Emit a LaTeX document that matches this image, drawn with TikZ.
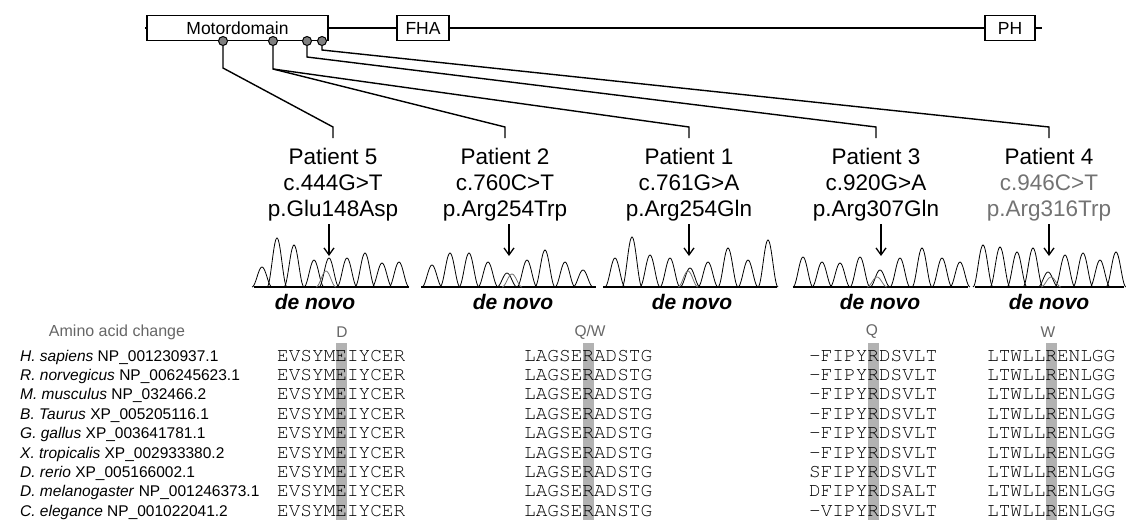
\documentclass[tikz,border=0pt]{standalone}
\usepackage{fontspec}
\setmainfont{Liberation Sans}
\usetikzlibrary{arrows.meta}
\newcommand{\seqfont}{\fontencoding{T1}\fontfamily{pcr}\selectfont}

% one peak of a trace: [colour] {x} {height}
\newcommand{\pk}[3][black]{%
  \draw[#1,line width=0.8pt] plot[domain=-10:10,samples=21,smooth] ({#2+\x},{287-#3*(1+cos(18*\x))/2});}

\begin{document}
\begin{tikzpicture}[x=1pt,y=-1pt,
    domainbox/.style={draw,line width=1.4pt,fill=white,minimum height=25pt,inner sep=0pt,font=\fontsize{17.5}{20}\selectfont},
    site/.style={circle,draw,line width=1pt,fill=gray,minimum size=9pt,inner sep=0pt},
    patient/.style={anchor=north,align=center,inner sep=0pt,font=\fontsize{22.5}{26}\selectfont},
    link/.style={line width=1.4pt},
    mut/.style={line width=1.3pt,-{Straight Barb[length=7pt,width=10pt]}},
    trace base/.style={line width=1.5pt},
    novo/.style={font=\fontsize{21}{24}\selectfont\bfseries\itshape},
    change/.style={text=black!60,font=\fontsize{15.5}{18}\selectfont},
    species/.style={anchor=base west,inner sep=0pt,font=\fontsize{15.5}{18}\selectfont},
    seq/.style={anchor=base west,inner sep=0pt,font=\fontsize{19.4}{20}\seqfont}]
\useasboundingbox (0,0) rectangle (1126,520);

% protein
\draw[link] (145,28) -- (1042,28);
\node[domainbox,minimum width=181pt] (motor) at (237.5,28) {Motordomain};
\node[domainbox,minimum width=52pt] (fha) at (423,28) {FHA};
\node[domainbox,minimum width=50pt] (ph) at (1010,28) {PH};
\node[site] (d1) at (223,41) {};
\node[site] (d2) at (273,41) {};
\node[site] (d3) at (307,41) {};
\node[site] (d4) at (322,41) {};

% patients
\node[patient] (p5) at (333,148) {Patient 5\\c.444G>T\\p.Glu148Asp};
\node[patient] (p2) at (505,148) {Patient 2\\c.760C>T\\p.Arg254Trp};
\node[patient] (p1) at (689,148) {Patient 1\\c.761G>A\\p.Arg254Gln};
\node[patient] (p3) at (876,148) {Patient 3\\c.920G>A\\p.Arg307Gln};
\node[patient] (p4) at (1049,148) {Patient 4\\\textcolor{black!55}{c.946C>T}\\\textcolor{black!55}{p.Arg316Trp}};

% connectors
\coordinate (c1) at (223,68);
\coordinate (c2) at (273,69);
\coordinate (c3) at (307,57);
\coordinate (c4) at (322,50);
\coordinate (k5) at (333,127);
\coordinate (k2) at (505,127);
\coordinate (k1) at (689,127);
\coordinate (k3) at (876,127);
\coordinate (k4) at (1049,127);
\draw[link] (d1) -- (c1) -- (k5) -- ([yshift=10pt]p5.north);
\draw[link] (d2) -- (c2) -- (k2) -- ([yshift=10pt]p2.north);
\draw[link] (c2) -- (k1) -- ([yshift=10pt]p1.north);
\draw[link] (d3) -- (c3) -- (k3) -- ([yshift=10pt]p3.north);
\draw[link] (d4) -- (c4) -- (k4) -- ([yshift=10pt]p4.north);

% mutation arrows
\foreach \ax in {329,509,689,881,1049}
  \draw[mut] (\ax,224) -- (\ax,256);

% traces
\draw[trace base] (254,287) -- (409,287);
\draw[trace base] (421,287) -- (596,287);
\draw[trace base] (603,287) -- (777,287);
\draw[trace base] (793,287) -- (968,287);
\draw[trace base] (975,287) -- (1124,287);
\foreach \px/\ph in {262/20,277/49,294/42,314/27,329/29,347/29,365/34,382/24,399/25,
                     432/22,450/34,469/34,488/25,507/14,527/27,545/37,565/25,583/17,
                     615/29,632/50,650/32,670/29,690/19,708/25,728/39,748/27,768/47,
                     803/30,822/25,840/24,860/30,880/17,900/29,922/39,942/29,960/25,
                     983/42,1000/40,1017/35,1033/39,1048/15,1065/32,1083/34,1100/27,1116/35}
  {\pk{\px}{\ph}}
\foreach \px/\ph in {326/16,512/13,688/16,877/10,1051/10}
  {\pk[black!55]{\px}{\ph}}

\node[novo] (n5) at (315,302) {de novo};
\node[novo] (n2) at (513,302) {de novo};
\node[novo] (n1) at (692,302) {de novo};
\node[novo] (n3) at (880,302) {de novo};
\node[novo] (n4) at (1049,302) {de novo};

% alignment
\foreach \bx in {341,588,873,1051}
  \fill[black!30] (\bx-5.5,343) rectangle (\bx+5.5,520);
\node[change,font=\fontsize{16}{18}\selectfont] (aa) at (117,332) {Amino acid change};
\node[change] (aD) at (342,332) {D};
\node[change] (aQW) at (590,332) {Q/W};
\node[change] (aQ) at (872,332) {Q};
\node[change] (aW) at (1048,332) {W};
\foreach \sp/\acc/\sa/\sb/\sc/\sd [count=\i from 0] in {
    H. sapiens/NP\_001230937.1/EVSYMEIYCER/LAGSERADSTG/-FIPYRDSVLT/LTWLLRENLGG,
    R. norvegicus/NP\_006245623.1/EVSYMEIYCER/LAGSERADSTG/-FIPYRDSVLT/LTWLLRENLGG,
    M. musculus/NP\_032466.2/EVSYMEIYCER/LAGSERADSTG/-FIPYRDSVLT/LTWLLRENLGG,
    B. Taurus/XP\_005205116.1/EVSYMEIYCER/LAGSERADSTG/-FIPYRDSVLT/LTWLLRENLGG,
    G. gallus/XP\_003641781.1/EVSYMEIYCER/LAGSERADSTG/-FIPYRDSVLT/LTWLLRENLGG,
    X. tropicalis/XP\_002933380.2/EVSYMEIYCER/LAGSERADSTG/-FIPYRDSVLT/LTWLLRENLGG,
    D. rerio/XP\_005166002.1/EVSYMEIYCER/LAGSERADSTG/SFIPYRDSVLT/LTWLLRENLGG,
    D. melanogaster/NP\_001246373.1/EVSYMEIYCER/LAGSERADSTG/DFIPYRDSALT/LTWLLRENLGG,
    C. elegance/NP\_001022041.2/EVSYMEIYCER/LAGSERANSTG/-VIPYRDSVLT/LTWLLRENLGG} {
  \pgfmathsetmacro\yy{361+19.4*\i}
  \node[species] (sp\i) at (20,\yy) {\textit{\sp} \acc};
  \node[seq] (sa\i) at (277,\yy) {\sa};
  \node[seq] (sb\i) at (524,\yy) {\sb};
  \node[seq] (sc\i) at (809,\yy) {\sc};
  \node[seq] (sd\i) at (987,\yy) {\sd};
}
\end{tikzpicture}
\end{document}
